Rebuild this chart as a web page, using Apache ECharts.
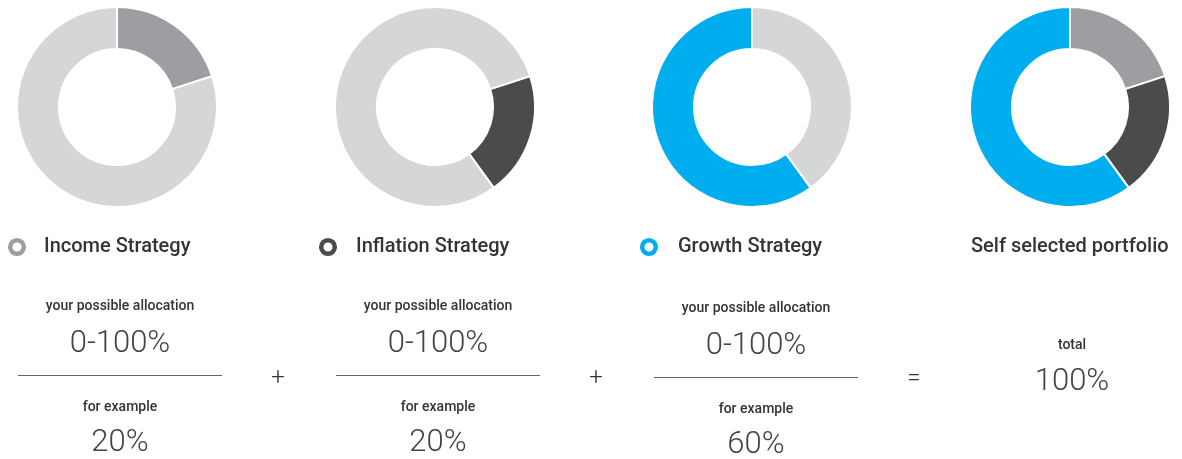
<!DOCTYPE html>
<html>
<head>
<meta charset="utf-8">
<script src="https://cdn.jsdelivr.net/npm/echarts@6/dist/echarts.min.js"></script>
<style>
  html, body { margin: 0; padding: 0; background: #fff; }
  #chart { width: 1182px; height: 459px; }
</style>
</head>
<body>
<div id="chart"></div>
<script>
// strategies and the example split
const categories = ['Income Strategy', 'Inflation Strategy', 'Growth Strategy'];
const exampleAllocation = [20, 20, 60];
const possibleAllocation = ['0-100%', '0-100%', '0-100%'];
const portfolioTitle = 'Self selected portfolio';
const totalAllocation = '100%';
const operators = ['+', '+', '='];

const colors = ['#9d9ea1', '#4a4b4d', '#00aeef'];
const restColor = '#d5d6d8';
const textColor = '#333436';

const donutX = [117, 435, 752, 1070];
const textX = [120, 438, 756, 1072];
const opX = [278, 596, 914];

const chart = echarts.init(document.getElementById('chart'));

const series = [];
let used = 0;
categories.forEach((name, i) => {
  series.push({
    type: 'pie',
    silent: true,
    radius: [58, 100],
    center: [donutX[i], 107],
    // each strategy's slice sits where it lands in the full portfolio
    startAngle: 90 - used * 3.6,
    label: { show: false },
    labelLine: { show: false },
    itemStyle: { borderColor: '#fff', borderWidth: 2 },
    data: [
      { name: name, value: exampleAllocation[i], itemStyle: { color: colors[i] } },
      { name: 'rest', value: 100 - exampleAllocation[i], itemStyle: { color: restColor } }
    ]
  });
  used += exampleAllocation[i];
});

series.push({
  type: 'pie',
  silent: true,
  radius: [58, 100],
  center: [donutX[3], 107],
  startAngle: 90,
  label: { show: false },
  labelLine: { show: false },
  itemStyle: { borderColor: '#fff', borderWidth: 2 },
  data: categories.map((name, i) => ({
    name: name,
    value: exampleAllocation[i],
    itemStyle: { color: colors[i] }
  }))
});

const font = 'Roboto, sans-serif';
const graphic = [];

categories.forEach((name, i) => {
  const ringX = [17, 328, 649][i];
  const labelX = [44, 356, 678][i];
  const dy = i === 2 ? 2 : 0;
  graphic.push({
    type: 'circle',
    shape: { cx: ringX, cy: 247, r: 6.8 },
    style: { fill: 'none', stroke: colors[i], lineWidth: 4.5 }
  });
  graphic.push({
    type: 'text', left: labelX, top: 237,
    style: { text: name, font: '500 20px ' + font, fill: textColor }
  });
  graphic.push({
    type: 'text', x: textX[i], y: 306 + dy,
    style: { text: 'your possible allocation', font: '500 14px ' + font, fill: textColor,
      align: 'center', verticalAlign: 'middle' }
  });
  graphic.push({
    type: 'text', x: textX[i], y: 344 + dy,
    style: { text: possibleAllocation[i], font: '300 31px ' + font, fill: '#444',
      align: 'center', verticalAlign: 'middle' }
  });
  graphic.push({
    type: 'line',
    shape: { x1: textX[i] - 102, y1: 375.5 + dy, x2: textX[i] + 102, y2: 375.5 + dy },
    style: { stroke: '#666', lineWidth: 1 }
  });
  graphic.push({
    type: 'text', x: textX[i], y: 407 + dy,
    style: { text: 'for example', font: '500 14px ' + font, fill: textColor,
      align: 'center', verticalAlign: 'middle' }
  });
  graphic.push({
    type: 'text', x: textX[i], y: 443 + dy,
    style: { text: exampleAllocation[i] + '%', font: '300 31px ' + font, fill: '#444',
      align: 'center', verticalAlign: 'middle' }
  });
  graphic.push({
    type: 'text', x: opX[i], y: 379,
    style: { text: operators[i], font: '300 24px ' + font, fill: textColor,
      align: 'center', verticalAlign: 'middle' }
  });
});

graphic.push({
  type: 'text', left: 971, top: 237,
  style: { text: portfolioTitle, font: '500 20px ' + font, fill: textColor }
});
graphic.push({
  type: 'text', x: textX[3], y: 345,
  style: { text: 'total', font: '500 14px ' + font, fill: textColor,
    align: 'center', verticalAlign: 'middle' }
});
graphic.push({
  type: 'text', x: textX[3], y: 382,
  style: { text: totalAllocation, font: '300 31px ' + font, fill: '#444',
    align: 'center', verticalAlign: 'middle' }
});

chart.setOption({
  animation: false,
  series: series,
  graphic: graphic
});
</script>
</body>
</html>
